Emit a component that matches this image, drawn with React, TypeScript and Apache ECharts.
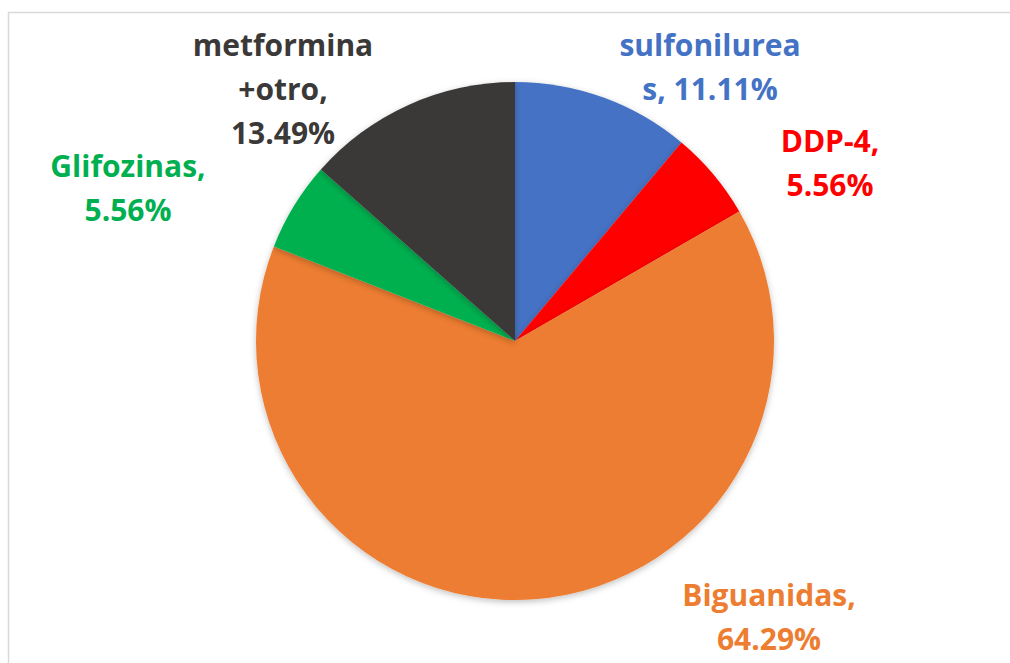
import React, { useEffect, useRef } from "react";
import * as echarts from "echarts";

// Data (percent shares), clockwise from 12 o'clock
const categories = ["sulfonilureas", "DDP-4", "Biguanidas", "Glifozinas", "metformina +otro"];
const values = [11.11, 5.56, 64.29, 5.56, 13.49];
// How each label is wrapped in the reference (display name lines, separator before value)
const labelNames = ["sulfonilurea\ns", "DDP-4", "Biguanidas", "Glifozinas", "metformina\n+otro"];
const labelSeparators = [", ", ",\n", ",\n", ",\n", ",\n"];
const colors = ["#4472C4", "#FF0000", "#ED7D31", "#00B050", "#3B3838"];
// Label block centres (layout)
const labelPos: [number, number][] = [
  [710, 66],
  [830, 162],
  [769, 616],
  [128, 187],
  [283, 88],
];

export default function App() {
  const ref = useRef<HTMLDivElement>(null);
  useEffect(() => {
    if (!ref.current) return;
    const chart = echarts.init(ref.current, undefined, { renderer: "svg" });
    chart.setOption({
      animation: false,
      backgroundColor: "#ffffff",
      graphic: [
        {
          type: "rect",
          shape: { x: 8.5, y: 12.5, width: 1020, height: 700 },
          style: { fill: "none", stroke: "#d9d9d9", lineWidth: 1.5 },
          silent: true,
          z: -1,
        },
      ],
      series: [
        {
          type: "pie",
          center: [515, 341],
          radius: 259,
          startAngle: 90,
          clockwise: true,
          avoidLabelOverlap: false,
          itemStyle: {
            shadowBlur: 6,
            shadowColor: "rgba(0,0,0,0.25)",
            shadowOffsetY: 2,
          },
          label: {
            show: true,
            position: "outside",
            fontFamily: "'Open Sans', sans-serif",
            fontWeight: "bold",
            fontSize: 30,
            lineHeight: 44,
            align: "center",
            formatter: (p: any) =>
              labelNames[p.dataIndex] + labelSeparators[p.dataIndex] + p.value.toFixed(2) + "%",
          },
          labelLine: { show: false },
          labelLayout: (p: any) => ({
            x: labelPos[p.dataIndex][0],
            y: labelPos[p.dataIndex][1],
            align: "center",
            verticalAlign: "middle",
          }),
          data: categories.map((c, i) => ({
            name: c,
            value: values[i],
            itemStyle: { color: colors[i] },
            label: { color: colors[i] },
          })),
        },
      ],
    });
    return () => chart.dispose();
  }, []);
  return (
    <div
      ref={ref}
      style={{ position: "fixed", left: 0, top: 0, width: 1010, height: 663 }}
    />
  );
}
